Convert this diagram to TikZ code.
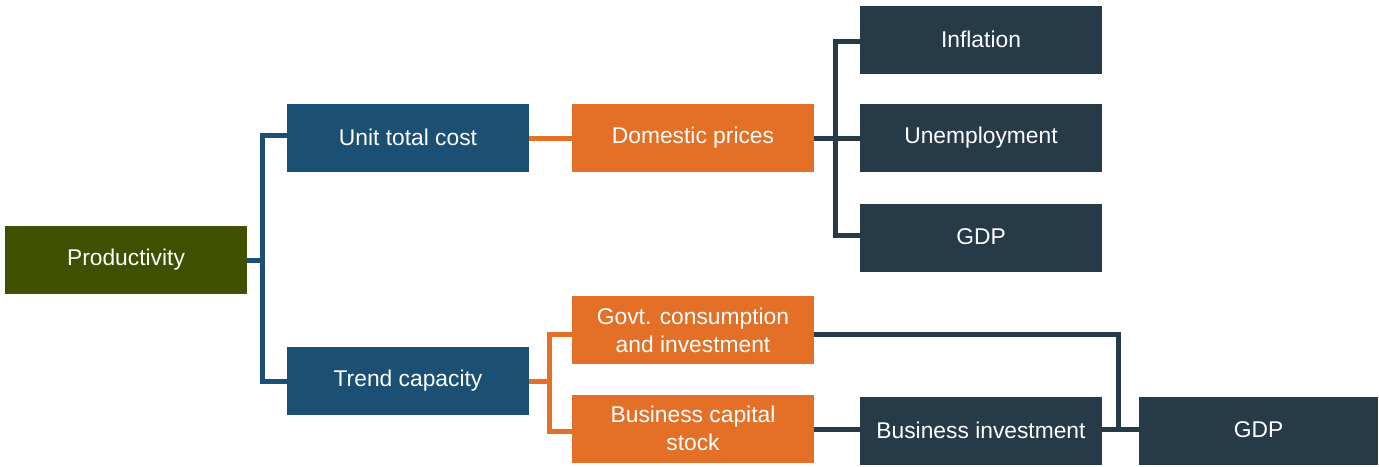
\documentclass[tikz,border=0pt]{standalone}
\usepackage{fontspec}
\setmainfont{Liberation Sans}
\definecolor{olivebox}{HTML}{3F5000}
\definecolor{bluebox}{HTML}{1B5074}
\definecolor{orangebox}{HTML}{E37026}
\definecolor{darkbox}{HTML}{263A48}
\newcommand{\upone}[1]{\raisebox{2.2pt}{#1}}
\begin{document}
\begin{tikzpicture}[x=1pt,y=-1pt,
  box/.style={minimum width=242pt, minimum height=68pt, inner sep=0pt, text=white,
    font=\fontsize{22.8}{28}\selectfont, align=center},
  olivenode/.style={box, fill=olivebox},
  bluenode/.style={box, fill=bluebox},
  orangenode/.style={box, fill=orangebox},
  darknode/.style={box, fill=darkbox},
  blueline/.style={draw=bluebox, line width=5pt},
  orangeline/.style={draw=orangebox, line width=5pt},
  darkline/.style={draw=darkbox, line width=5pt}]
\useasboundingbox (0,0) rectangle (1379,466);
\fill[white] (0,0) rectangle (1379,466);
\node[olivenode] (prod) at (126,260) {\upone{Productivity}};
\node[bluenode] (unit) at (408,138) {\upone{Unit total cost}};
\node[bluenode] (trend) at (408,381) {\upone{Trend capacity}};
\node[orangenode] (dom) at (693,138) {\upone{Domestic prices}};
\node[orangenode] (govt) at (693,330) {Govt. consumption\\and investment};
\node[orangenode] (bizcap) at (693,428.5) {Business capital\\stock};
\node[darknode] (infl) at (981,40) {\upone{Inflation}};
\node[darknode] (unemp) at (981,138) {\upone{Unemployment}};
\node[darknode] (gdpa) at (981,238) {\upone{GDP}};
\node[darknode] (bizinv) at (981,431) {\upone{Business investment}};
\node[darknode, minimum width=239pt] (gdpb) at (1258.5,431) {\upone{GDP}};
% blue connectors
\draw[blueline] (unit.west) ++(0,-3) -- ++(-24.5,0) |- (trend.west);
\draw[blueline] (prod.east) -- ++(16,0);
% orange connectors
\draw[orangeline] (unit.east) -- (dom.west);
\draw[orangeline] (govt.west) ++(0,4) -- ++(-22,0) |- ([yshift=-2.5pt]bizcap.west);
\draw[orangeline] (trend.east) -- ++(22,0);
% dark connectors
\draw[darkline] (infl.west) ++(0,1) -- ++(-24,0) |- ([yshift=2.5pt]gdpa.west);
\draw[darkline] (dom.east) -- (unemp.west);
\draw[darkline] (govt.east) ++(0,4) -- ++(304.5,0) |- ([yshift=1.5pt]gdpb.west);
\draw[darkline] (bizcap.east) ++(0,1) -- ([yshift=1.5pt]bizinv.west);
\draw[darkline] ([yshift=1.5pt]bizinv.east) -- ([yshift=1.5pt]gdpb.west);
\end{tikzpicture}
\end{document}
